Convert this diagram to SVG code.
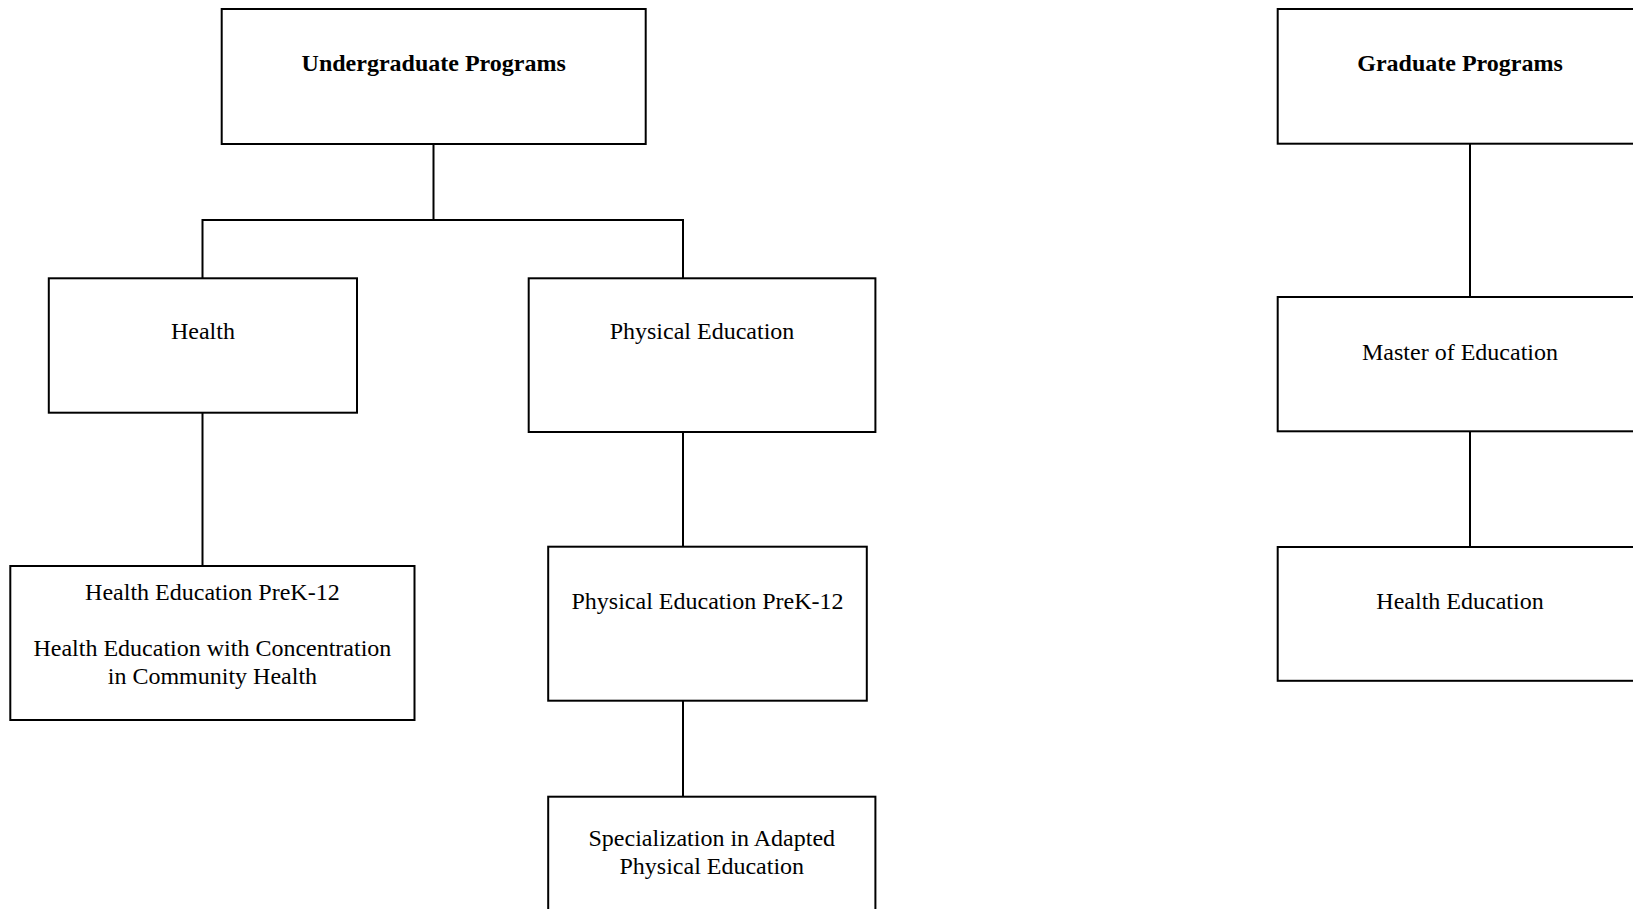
<svg xmlns="http://www.w3.org/2000/svg" width="1633" height="909" viewBox="0 0 1633 909">
  <style>
    .box { fill: #ffffff; stroke: #000000; stroke-width: 2; }
    .link { fill: none; stroke: #000000; stroke-width: 2; }
    .label { font-family: "Liberation Serif", "Times New Roman", serif; font-size: 24px; fill: #000000; text-anchor: middle; }
    .title { font-weight: bold; }
  </style>
  <rect width="1633" height="909" fill="#ffffff"/>

  <!-- connectors -->
  <g id="connectors">
    <path class="link" d="M433.5,144 V220"/>
    <path class="link" d="M202.5,278.5 V220 H683 V278.5"/>
    <path class="link" d="M202.5,412.5 V566"/>
    <path class="link" d="M683,432 V546.5"/>
    <path class="link" d="M683,700.5 V796.5"/>
    <path class="link" d="M1470,143.5 V297"/>
    <path class="link" d="M1470,431 V547"/>
  </g>

  <!-- undergraduate tree -->
  <g id="undergraduate-programs">
    <rect class="box" x="221.7" y="9" width="424" height="135"/>
    <text class="label title" x="433.7" y="71">Undergraduate Programs</text>
  </g>
  <g id="health">
    <rect class="box" x="48.8" y="278.3" width="308.2" height="134.4"/>
    <text class="label" x="202.9" y="339.3">Health</text>
  </g>
  <g id="physical-education">
    <rect class="box" x="528.7" y="278.3" width="346.7" height="153.7"/>
    <text class="label" x="702" y="339.3">Physical Education</text>
  </g>
  <g id="health-education-prek12">
    <rect class="box" x="10.3" y="566" width="404.2" height="154"/>
    <text class="label" x="212.4" y="600">Health Education PreK-12</text>
    <text class="label" x="212.4" y="656">Health Education with Concentration</text>
    <text class="label" x="212.4" y="683.6">in Community Health</text>
  </g>
  <g id="physical-education-prek12">
    <rect class="box" x="548.2" y="546.7" width="318.6" height="154"/>
    <text class="label" x="707.5" y="609">Physical Education PreK-12</text>
  </g>
  <g id="adapted-physical-education">
    <rect class="box" x="548.2" y="796.7" width="327.2" height="140"/>
    <text class="label" x="711.8" y="846">Specialization in Adapted</text>
    <text class="label" x="711.8" y="873.6">Physical Education</text>
  </g>

  <!-- graduate tree -->
  <g id="graduate-programs">
    <rect class="box" x="1277.7" y="9" width="380" height="134.7"/>
    <text class="label title" x="1460" y="71">Graduate Programs</text>
  </g>
  <g id="master-of-education">
    <rect class="box" x="1277.7" y="297" width="380" height="134.3"/>
    <text class="label" x="1460" y="359.5">Master of Education</text>
  </g>
  <g id="health-education">
    <rect class="box" x="1277.7" y="547" width="380" height="133.8"/>
    <text class="label" x="1460" y="608.5">Health Education</text>
  </g>
</svg>
